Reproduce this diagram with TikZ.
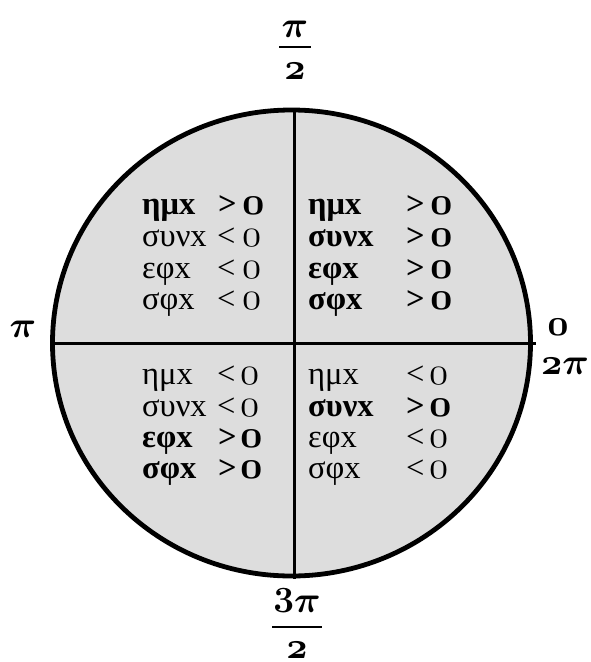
\RequirePackage{fix-cm}
\documentclass[tikz,border=0pt]{standalone}
\usepackage{fontspec}
\newfontfamily\grk{Liberation Serif}
\definecolor{quadfill}{RGB}{221,221,221}
\newcommand{\zr}{{\fontsize{39}{40}\selectfont$\mathnormal{0}$}}
\newcommand{\bzr}{{\fontsize{39}{40}\selectfont\boldmath$\mathnormal{0}$}}
\tikzset{
  cell/.style={anchor=base west, inner sep=0pt, font=\grk\fontsize{32.5}{34}\selectfont},
  bcell/.style={cell, font=\grk\bfseries\fontsize{32.5}{34}\selectfont},
  edgelab/.style={inner sep=0pt, font=\fontsize{37}{40}\selectfont\boldmath},
  rim/.style={line width=4.8pt},
  axis/.style={line width=3.6pt},
  fracbar/.style={line width=1.8pt},
}
\begin{document}
\begin{tikzpicture}[x=1pt,y=-1pt]
\useasboundingbox (0,0) rectangle (590,662);
% disc
\fill[quadfill] (291.5,343) ellipse [x radius=239, y radius=233];
\draw[rim] (291.5,343) ellipse [x radius=239, y radius=233];
% axes
\coordinate (vt) at (294.6,110);
\coordinate (vb) at (294.6,579);
\coordinate (hl) at (52.5,343);
\coordinate (hr) at (536,343);
\draw[axis] (vt) -- (vb);
\draw[axis,line width=3pt] (hl) -- (hr);
% edge labels
\node[edgelab] (topnum) at (295,29) {$\pi$};
\coordinate (tbl) at (279,47);
\coordinate (tbr) at (311,47);
\draw[fracbar] (tbl) -- (tbr);
\node[edgelab] (topden) at (295,71) {$\mathnormal{2}$};
\node[edgelab] (leftpi) at (23,329) {$\pi$};
\node[edgelab] (rightzero) at (558,327) {$\mathnormal{0}$};
\node[edgelab] (righttwopi) at (565,366) {$\mathnormal{2}\pi$};
\node[edgelab, anchor=base] (botnum) at (297,612) {$\mathbf{3}\pi$};
\coordinate (bbl) at (272,627);
\coordinate (bbr) at (322,627);
\draw[fracbar] (bbl) -- (bbr);
\node[edgelab] (botden) at (297,650) {$\mathnormal{2}$};
% quadrant I (top right)
\node[bcell] (q1a) at (308,214) {ημx};
\node[bcell] (q1ar) at (406,214) {>};
\node[bcell] (q1az) at (430,214) {\bzr};
\node[bcell] (q1b) at (308,246) {συνx};
\node[bcell] (q1br) at (406,246) {>};
\node[bcell] (q1bz) at (430,246) {\bzr};
\node[bcell] (q1c) at (308,278) {εφx};
\node[bcell] (q1cr) at (406,278) {>};
\node[bcell] (q1cz) at (430,278) {\bzr};
\node[bcell] (q1d) at (308,309) {σφx};
\node[bcell] (q1dr) at (406,309) {>};
\node[bcell] (q1dz) at (430,309) {\bzr};
% quadrant II (top left)
\node[bcell] (q2a) at (142,214) {ημx};
\node[bcell] (q2ar) at (218,214) {>};
\node[bcell] (q2az) at (242,214) {\bzr};
\node[cell] (q2b) at (142,246) {συνx};
\node[cell] (q2br) at (217,246) {<};
\node[cell] (q2bz) at (242,246) {\zr};
\node[cell] (q2c) at (142,278) {εφx};
\node[cell] (q2cr) at (217,278) {<};
\node[cell] (q2cz) at (242,278) {\zr};
\node[cell] (q2d) at (142,309) {σφx};
\node[cell] (q2dr) at (217,309) {<};
\node[cell] (q2dz) at (242,309) {\zr};
% quadrant III (bottom left)
\node[cell] (q3a) at (142,384) {ημx};
\node[cell] (q3ar) at (217,384) {<};
\node[cell] (q3az) at (240,384) {\zr};
\node[cell] (q3b) at (142,416) {συνx};
\node[cell] (q3br) at (217,416) {<};
\node[cell] (q3bz) at (240,416) {\zr};
\node[bcell] (q3c) at (142,447) {εφx};
\node[bcell] (q3cr) at (218,447) {>};
\node[bcell] (q3cz) at (240,447) {\bzr};
\node[bcell] (q3d) at (142,478) {σφx};
\node[bcell] (q3dr) at (218,478) {>};
\node[bcell] (q3dz) at (240,478) {\bzr};
% quadrant IV (bottom right)
\node[cell] (q4a) at (308,384) {ημx};
\node[cell] (q4ar) at (406,384) {<};
\node[cell] (q4az) at (429,384) {\zr};
\node[bcell] (q4b) at (308,416) {συνx};
\node[bcell] (q4br) at (406,416) {>};
\node[bcell] (q4bz) at (429,416) {\bzr};
\node[cell] (q4c) at (308,447) {εφx};
\node[cell] (q4cr) at (406,447) {<};
\node[cell] (q4cz) at (429,447) {\zr};
\node[cell] (q4d) at (308,478) {σφx};
\node[cell] (q4dr) at (406,478) {<};
\node[cell] (q4dz) at (429,478) {\zr};
\end{tikzpicture}
\end{document}
